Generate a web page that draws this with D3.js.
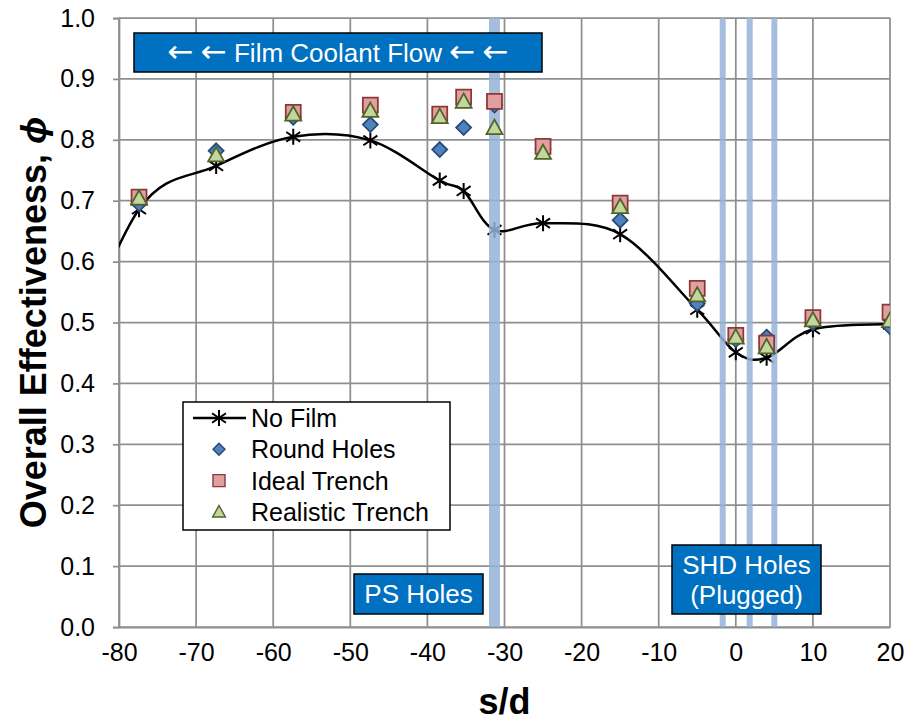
<!DOCTYPE html>
<html>
<head>
<meta charset="utf-8">
<script src="https://cdn.jsdelivr.net/npm/d3@7"></script>
<style>
  body { margin: 0; background: #fff; }
  text { font-family: 'Liberation Sans', Arial, sans-serif; }
</style>
</head>
<body>
<div id="chart"></div>
<script>
// Measurement stations (s/d) shared by all series
const sd = [-77.4, -67.4, -57.4, -47.4, -38.4, -35.3, -31.3, -25, -15, -5, 0, 4, 10, 20];

// No film curve also has one station left of the axis (only the curve shows)
const noFilmSd = [-87.4, ...sd];
const noFilm = [0.40, 0.686, 0.757, 0.805, 0.799, 0.733, 0.716, 0.652, 0.663, 0.645, 0.521, 0.451, 0.442, 0.489, 0.497];

// null = no marker visible at that station
const roundHoles = [0.695, 0.782, 0.837, 0.825, 0.784, 0.820, 0.857, 0.785, 0.668, 0.531, 0.472, 0.476, 0.500, 0.493];
const idealTrench = [0.706, null, 0.845, 0.857, 0.842, 0.870, 0.863, 0.789, 0.696, 0.556, 0.479, 0.466, 0.508, 0.517];
const realisticTrench = [0.704, 0.775, 0.842, 0.848, 0.838, 0.863, 0.820, 0.779, 0.690, 0.545, 0.476, 0.460, 0.504, 0.503];

// Hole locations (s/d)
const psHoles = [-31.3];
const shdHoles = [-1.7, 1.8, 5.0];

const xTicks = [-80, -70, -60, -50, -40, -30, -20, -10, 0, 10, 20];
const yTicks = [0, 0.1, 0.2, 0.3, 0.4, 0.5, 0.6, 0.7, 0.8, 0.9, 1.0];

const seriesNames = ['No Film', 'Round Holes', 'Ideal Trench', 'Realistic Trench'];

// Set dimensions
const width = 905, height = 721;
const plot = { left: 119, right: 890, top: 18, bottom: 627 };
const gridColor = '#8f8f8f';

const svg = d3.select('#chart')
  .append('svg')
  .attr('width', width)
  .attr('height', height);

svg.append('rect').attr('width', width).attr('height', height).attr('fill', '#fff');

const x = d3.scaleLinear().domain([-80, 20]).range([plot.left, plot.right]);
const y = d3.scaleLinear().domain([0, 1]).range([plot.bottom, plot.top]);

svg.append('clipPath').attr('id', 'plotClip')
  .append('rect')
  .attr('x', plot.left).attr('y', plot.top)
  .attr('width', plot.right - plot.left).attr('height', plot.bottom - plot.top);

// Gridlines
svg.append('g')
  .selectAll('line')
  .data(xTicks)
  .join('line')
  .attr('x1', d => x(d)).attr('x2', d => x(d))
  .attr('y1', plot.top).attr('y2', plot.bottom)
  .attr('stroke', gridColor).attr('stroke-width', 1.75);

svg.append('g')
  .selectAll('line')
  .data(yTicks)
  .join('line')
  .attr('x1', plot.left).attr('x2', plot.right)
  .attr('y1', d => y(d)).attr('y2', d => y(d))
  .attr('stroke', gridColor).attr('stroke-width', 1.75);

// Axes (ticks + labels)
const yAxis = svg.append('g')
  .attr('transform', `translate(${plot.left},0)`)
  .call(d3.axisLeft(y).tickValues(yTicks).tickFormat(d3.format('.1f')).tickSize(6).tickPadding(18));
const xAxis = svg.append('g')
  .attr('transform', `translate(0,${plot.bottom})`)
  .call(d3.axisBottom(x).tickValues(xTicks).tickFormat(d3.format('d')).tickSize(0).tickPadding(14));

[xAxis, yAxis].forEach(ax => {
  ax.select('.domain').attr('stroke', gridColor).attr('stroke-width', 1.75);
  ax.selectAll('.tick line').attr('stroke', gridColor).attr('stroke-width', 1.75);
  ax.selectAll('.tick text')
    .attr('fill', '#000')
    .style('font-family', "'Liberation Sans', Arial, sans-serif")
    .style('font-size', '25px');
});
xAxis.selectAll('.tick text').attr('dy', '0.8em').text(d => d3.format('d')(d).replace('\u2212', '-'));

// Line + markers for No Film
const noFilmData = noFilmSd.map((s, i) => ({ s, v: noFilm[i] }));
const line = d3.line()
  .x(d => x(d.s))
  .y(d => y(d.v))
  .curve(d3.curveCardinal.tension(0));

const dataLayer = svg.append('g').attr('clip-path', 'url(#plotClip)');

dataLayer.append('path')
  .datum(noFilmData)
  .attr('d', line)
  .attr('fill', 'none')
  .attr('stroke', '#000')
  .attr('stroke-width', 2.5);

const starPath = r => `M0,${-r}V${r}M${-r * 0.87},${-r * 0.6}L${r * 0.87},${r * 0.6}M${-r * 0.87},${r * 0.6}L${r * 0.87},${-r * 0.6}`;

dataLayer.append('g')
  .selectAll('path')
  .data(noFilmData)
  .join('path')
  .attr('transform', d => `translate(${x(d.s)},${y(d.v)})`)
  .attr('d', starPath(8))
  .attr('stroke', '#000')
  .attr('stroke-width', 2)
  .attr('fill', 'none');

// Hole bands
dataLayer.append('g')
  .selectAll('rect')
  .data(psHoles)
  .join('rect')
  .attr('x', d => x(d) - 5.5)
  .attr('width', 11)
  .attr('y', plot.top)
  .attr('height', plot.bottom - plot.top)
  .attr('fill', '#95b3d7')
  .attr('opacity', 0.85);

dataLayer.append('g')
  .selectAll('rect')
  .data(shdHoles)
  .join('rect')
  .attr('x', d => x(d) - 3)
  .attr('width', 6)
  .attr('y', plot.top)
  .attr('height', plot.bottom - plot.top)
  .attr('fill', '#95b3d7')
  .attr('opacity', 0.85);

// Marker shapes
const diamond = r => `M0,${-r}L${r},0L0,${r}L${-r},0Z`;
const square = r => `M${-r},${-r}H${r}V${r}H${-r}Z`;
const triangle = r => `M0,${-r}L${r},${r * 0.8}H${-r}Z`;

const markerSeries = [
  { values: roundHoles, shape: diamond(7.5), fill: '#4f81bd', stroke: '#254a77' },
  { values: idealTrench, shape: square(7.5), fill: '#e0a0a0', stroke: '#8c3836' },
  { values: realisticTrench, shape: triangle(8), fill: '#c3d69b', stroke: '#4f6228' },
];

markerSeries.forEach(ser => {
  dataLayer.append('g')
    .selectAll('path')
    .data(sd.map((s, i) => ({ s, v: ser.values[i] })).filter(d => d.v != null))
    .join('path')
    .attr('transform', d => `translate(${x(d.s)},${y(d.v)})`)
    .attr('d', ser.shape)
    .attr('fill', ser.fill)
    .attr('stroke', ser.stroke)
    .attr('stroke-width', 1.75);
});

// Annotation boxes
function noteBox(x0, y0, w, h, lines, lineGap) {
  const g = svg.append('g');
  g.append('rect')
    .attr('x', x0).attr('y', y0).attr('width', w).attr('height', h)
    .attr('fill', '#0070c0').attr('stroke', '#000').attr('stroke-width', 1.5);
  const startY = y0 + h / 2 - (lines.length - 1) * lineGap / 2;
  const texts = g.selectAll('text')
    .data(lines)
    .join('text')
    .attr('x', x0 + w / 2)
    .attr('y', (d, i) => startY + i * lineGap)
    .attr('dy', '0.36em')
    .attr('text-anchor', 'middle')
    .attr('fill', '#fff')
    .style('font-size', '26px');
  // arrows get a wider glyph from DejaVu
  texts.each(function (d) {
    const t = d3.select(this);
    d.split(/(\u2190)/).filter(p => p !== '').forEach(p => {
      const span = t.append('tspan').text(p);
      if (p === '\u2190') span.style('font-family', "'DejaVu Sans'").style('font-size', '31px');
    });
  });
}

noteBox(134, 33, 408, 39, ['\u2190 \u2190 Film Coolant Flow \u2190 \u2190'], 0);
noteBox(354, 574, 129, 40, ['PS Holes'], 0);
noteBox(672, 545, 149, 69, ['SHD Holes', '(Plugged)'], 30);

// Legend
const legend = svg.append('g').attr('transform', 'translate(183,402)');
legend.append('rect')
  .attr('width', 267).attr('height', 128)
  .attr('fill', '#fff').attr('stroke', '#000').attr('stroke-width', 1.5);

const rowY = i => 16 + i * 31.3;
legend.append('line')
  .attr('x1', 10).attr('x2', 63).attr('y1', rowY(0)).attr('y2', rowY(0))
  .attr('stroke', '#000').attr('stroke-width', 2.5);
legend.append('path')
  .attr('transform', `translate(36,${rowY(0)})`)
  .attr('d', starPath(8))
  .attr('stroke', '#000').attr('stroke-width', 2).attr('fill', 'none');

markerSeries.forEach((ser, i) => {
  legend.append('path')
    .attr('d', ser.shape)
    .attr('fill', ser.fill)
    .attr('stroke', ser.stroke)
    .attr('stroke-width', 1.75)
    .attr('transform', `translate(36,${rowY(i + 1)}) scale(0.8)`);
});

legend.selectAll('text')
  .data(seriesNames)
  .join('text')
  .attr('x', 68)
  .attr('y', (d, i) => rowY(i))
  .attr('dy', '0.36em')
  .style('font-size', '25px')
  .text(d => d);

// Axis titles
svg.append('text')
  .attr('x', (plot.left + plot.right) / 2)
  .attr('y', 714)
  .attr('text-anchor', 'middle')
  .style('font-size', '36px')
  .style('font-weight', 'bold')
  .text('s/d');

const yTitle = svg.append('text')
  .attr('transform', `translate(46,${(plot.top + plot.bottom) / 2}) rotate(-90)`)
  .attr('text-anchor', 'middle')
  .style('font-size', '36px')
  .style('font-weight', 'bold');
yTitle.append('tspan').text('Overall Effectiveness, ');
yTitle.append('tspan').style('font-style', 'italic').text('\u03d5');
</script>
</body>
</html>
